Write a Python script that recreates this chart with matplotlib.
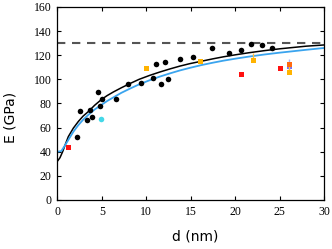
import matplotlib
matplotlib.use('Agg')
import matplotlib.pyplot as plt

# data
black_x = [2.2, 2.6, 3.3, 3.7, 3.9, 4.6, 4.8, 5.06, 6.56, 8.0, 9.4, 10.8, 11.06, 11.65,
           12.1, 12.4, 13.75, 15.25, 17.4, 19.3, 20.7, 21.8, 23.0, 24.1]
black_y = [52, 73.8, 66, 74.6, 68.6, 89.3, 78.2, 83.7, 84, 96.2, 96.7, 100.9, 112.5, 96.4,
           114.7, 100, 116.6, 118.8, 126.3, 121.9, 124.4, 129.1, 128.3, 125.8]

red_x = [1.25, 20.7, 25.06]
red_y = [43.8, 104.7, 109.7]

orange_x = [9.93, 16.1, 22.0, 26.07]
orange_y = [109.4, 115, 116.3, 106]
orange_err_up = [0, 0, 5.7, 7]

blue_x = [26.07]
blue_y = [111]
blue_err = [6]

redorange_x = [26.07]
redorange_y = [112.5]

cyan_x = [4.9]
cyan_y = [67.2]

# fitted curves, sampled by eye
fit_black_x = [0, 0.3, 0.6, 0.9, 1.24, 1.8, 2.36, 2.9, 3.48, 4.2, 5, 5.6, 6.3, 7.2, 8.17,
               9.2, 10.4, 11.5, 12.7, 13.8, 14.9, 16.2, 17.5, 18.7, 20, 21.5, 23.3, 25,
               26.5, 28, 30]
fit_black_y = [32, 35, 40, 46, 52.5, 59.5, 65, 69.5, 73.2, 78.5, 83.5, 86.5, 89.5, 93,
               96.5, 100, 103.3, 106, 108.7, 111, 113, 115, 117, 118.7, 120.3, 122, 123.8,
               125.3, 126.4, 127.5, 128.5]
fit_blue_x = [0, 0.45, 0.8, 1.24, 1.8, 2.36, 2.9, 3.48, 4.2, 5, 5.6, 6.3, 7.2, 8.17, 9.2,
              10.4, 11.5, 12.7, 13.8, 14.9, 16.2, 17.5, 18.7, 20, 21.5, 23.3, 25, 26.5,
              28, 30]
fit_blue_y = [40, 40.5, 44.5, 49.8, 56.5, 62, 66.5, 70.5, 75, 79, 82, 85, 88.8, 92.3, 95.8,
              99.3, 102.2, 105, 107.4, 109.5, 111.8, 113.8, 115.5, 117.1, 118.8, 120.6,
              122.1, 123.3, 124.5, 126]

bulk_E = 130

fig = plt.figure(figsize=(3.32, 2.49), dpi=100)
ax = fig.add_axes([0.1726, 0.197, 0.8034, 0.775])

ax.axhline(bulk_E, color='#555555', lw=1.5, linestyle=(0, (4, 3.2)), zorder=1)
ax.plot(fit_black_x, fit_black_y, color='black', lw=1.1, zorder=2)
ax.plot(fit_blue_x, fit_blue_y, color='#3aa4ee', lw=1.3, zorder=2)

ax.plot(black_x, black_y, 'o', color='black', ms=4, mew=0, zorder=4)
ax.plot(cyan_x, cyan_y, 'o', color='#44d8e8', ms=4, mew=0, zorder=4)
ax.plot(red_x, red_y, 's', color='#ff1010', ms=3.6, mew=0, zorder=4)
ax.errorbar(blue_x, blue_y, yerr=blue_err, fmt='s', color='#7070ff', ecolor='#a8b0ff',
            ms=3.6, mew=0, elinewidth=1, capsize=2, zorder=3)
ax.errorbar(orange_x, orange_y, yerr=[[0] * len(orange_x), orange_err_up], fmt='s',
            color='#ffb300', ecolor='#ffc040', ms=3.6, mew=0, elinewidth=1, capsize=0, zorder=4)
ax.plot(redorange_x, redorange_y, 's', color='#ff6a10', ms=3.6, mew=0, zorder=5)

ax.set_xlim(0, 30)
ax.set_ylim(0, 160)
ax.set_xticks([0, 5, 10, 15, 20, 25, 30])
ax.set_yticks([0, 20, 40, 60, 80, 100, 120, 140, 160])
ax.tick_params(direction='in', top=True, right=True, length=3, width=0.8, pad=4)
for lab in ax.get_xticklabels() + ax.get_yticklabels():
    lab.set_family('Liberation Serif')
    lab.set_fontsize(8.5)
for s in ax.spines.values():
    s.set_linewidth(0.9)

ax.set_xlabel('d (nm)', fontsize=10)
ax.set_ylabel('E (GPa)', fontsize=10)
ax.xaxis.set_label_coords(0.516, -0.155)
ax.yaxis.set_label_coords(-0.15, 0.43)

fig.savefig('out.png', dpi=100)
